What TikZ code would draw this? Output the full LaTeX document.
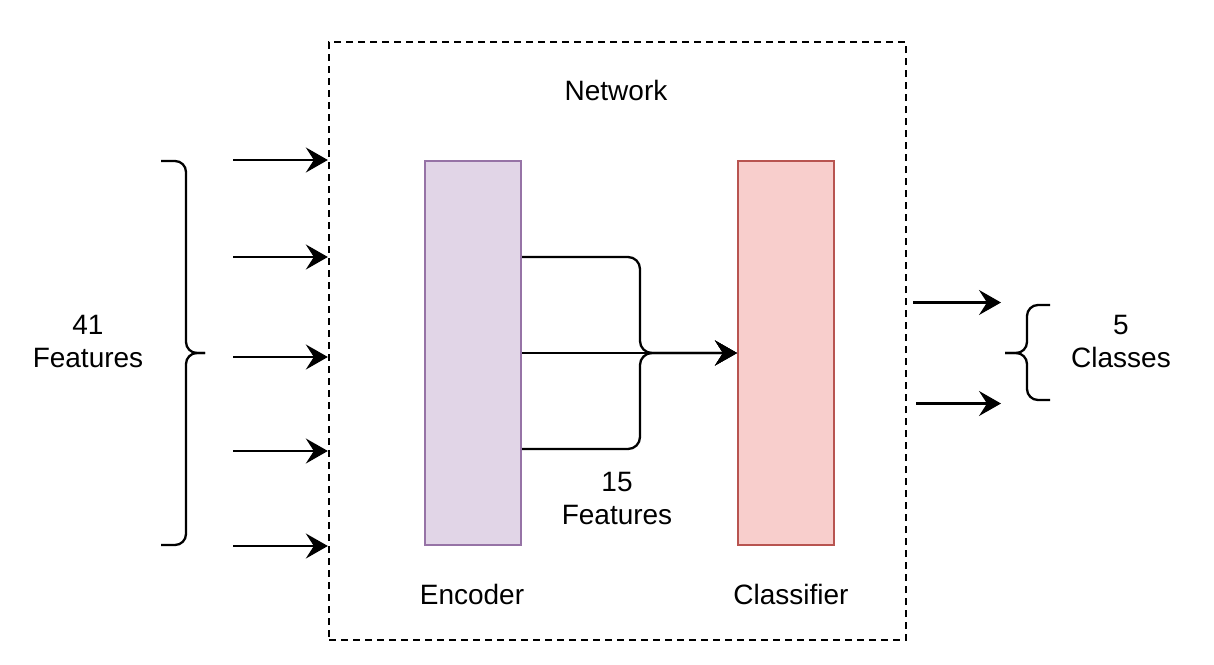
\documentclass[tikz,border=0pt]{standalone}
\usepackage{fontspec}
\setmainfont{Liberation Sans}
\usetikzlibrary{arrows.meta,calc}
\begin{document}
\begin{tikzpicture}[x=1pt,y=-1pt,
  every node/.style={font=\fontsize{28}{33}\selectfont},
  lbl/.style={align=center,inner sep=0pt},
  blk/.style={draw,line width=2pt,minimum width=96pt,minimum height=384pt,inner sep=0pt},
  wire/.style={line width=2.3pt},
  arr/.style={wire,-{Stealth[length=22pt,width=25pt,inset=8pt]}},
  brace/.style={wire,rounded corners=11pt}]
\useasboundingbox (0,0) rectangle (1214,664);
% network box
\node[draw,dashed,dash pattern=on 7pt off 5pt,line width=2.3pt,minimum width=577pt,minimum height=598pt,inner sep=0pt] (net) at (617.5,341) {};
\node[lbl] (nettxt) at (616,90) {Network};
% blocks
\node[blk,draw={rgb,255:red,150;green,115;blue,166},fill={rgb,255:red,225;green,213;blue,231}] (enc) at (473,353) {};
\node[blk,draw={rgb,255:red,184;green,84;blue,80},fill={rgb,255:red,248;green,206;blue,204}] (cls) at (786,353) {};
\node[lbl] (enctxt) at (472,594) {Encoder};
\node[lbl] (clstxt) at (791,594) {Classifier};
\node[lbl] (mid) at (617,498) {15\\Features};
% encoder to classifier
\coordinate (j) at (640,353);
\draw[arr,rounded corners=12pt] ($(enc.east)+(0,-96)$) -| (j) -- (cls.west);
\draw[arr,rounded corners=12pt] ($(enc.east)+(0,96)$) -| (j) -- (cls.west);
\draw[arr] (enc.east) -- (cls.west);
% inputs
\foreach \y [count=\i] in {160,257,357,451,546}{
  \coordinate (i\i) at (233,\y);
  \draw[arr] (i\i) -- (net.west |- i\i);
}
% left brace
\coordinate (lt) at (161,161);
\coordinate (lb) at (161,545);
\coordinate (ltip) at (205,353);
\draw[brace] (lt) -| (186,353) -- (ltip);
\draw[brace] (lb) -| (186,353) -- (ltip);
\node[lbl] (intxt) at (88,341) {41\\Features};
% outputs
\coordinate (o1) at (913,302.5);
\coordinate (o1e) at (1001,302.5);
\coordinate (o2) at (916,403.5);
\coordinate (o2e) at (1001,403.5);
\draw[arr] (o1) -- (o1e);
\draw[arr] (o2) -- (o2e);
% right brace
\coordinate (rt) at (1050,305);
\coordinate (rb) at (1050,400);
\coordinate (rtip) at (1005,353);
\draw[brace] (rt) -| (1027,353) -- (rtip);
\draw[brace] (rb) -| (1027,353) -- (rtip);
\node[lbl] (outtxt) at (1121,341) {5\\Classes};
\end{tikzpicture}
\end{document}
